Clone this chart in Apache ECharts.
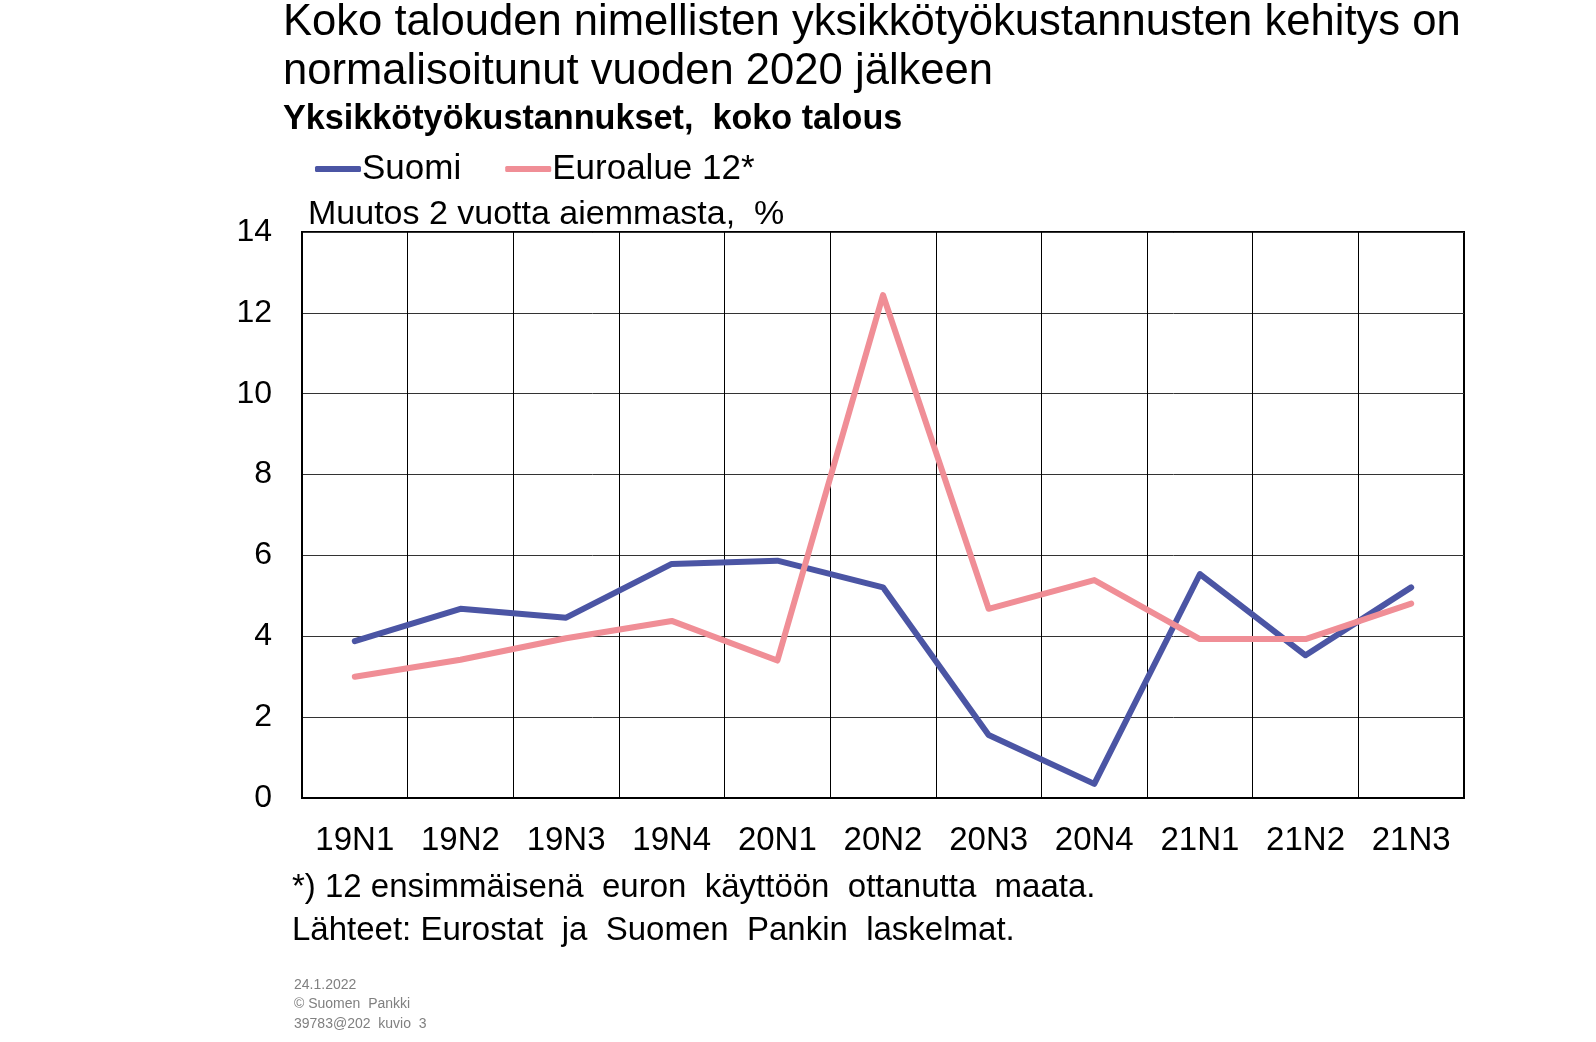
<!DOCTYPE html>
<html>
<head>
<meta charset="utf-8">
<script src="https://cdn.jsdelivr.net/npm/echarts@6/dist/echarts.min.js"></script>
<style>
html,body{margin:0;padding:0;background:#fff;}
#chart{width:1596px;height:1042px;}
</style>
</head>
<body>
<div id="chart"></div>
<script>
var categories = ['19N1','19N2','19N3','19N4','20N1','20N2','20N3','20N4','21N1','21N2','21N3'];
var suomi = [3.88, 4.68, 4.46, 5.79, 5.87, 5.21, 1.56, 0.35, 5.54, 3.53, 5.21];
var euroalue = [3.0, 3.42, 3.95, 4.38, 3.40, 12.44, 4.68, 5.39, 3.93, 3.93, 4.81];
var yTicks = {min: 0, max: 14, interval: 2};

var FONT = 'Liberation Sans, Arial, sans-serif';
var chart = echarts.init(document.getElementById('chart'));
// cy = vertical centre of the first line
function t(text, left, cy, size, lh, extra) {
  var s = {fontFamily: FONT, fontSize: size, lineHeight: lh, color: '#000', fontWeight: 'normal'};
  if (extra) for (var k in extra) s[k] = extra[k];
  return {text: text, left: left, top: cy - lh / 2, padding: 0, textStyle: s};
}
chart.setOption({
  backgroundColor: '#fff',
  animation: false,
  title: [
    t('Koko talouden nimellisten yksikkötyökustannusten kehitys on\nnormalisoitunut vuoden 2020 jälkeen', 283, 23, 43.6, 49),
    t('Yksikkötyökustannukset,  koko talous', 283, 120, 34.2, 40, {fontWeight: 'bold'}),
    t('Muutos 2 vuotta aiemmasta,  %', 308, 215, 34, 40),
    t('*) 12 ensimmäisenä  euron  käyttöön  ottanutta  maata.', 292, 888, 33, 40),
    t('Lähteet: Eurostat  ja  Suomen  Pankin  laskelmat.', 292, 931, 33, 40),
    t('24.1.2022\n© Suomen  Pankki\n39783@202  kuvio  3', 294, 985, 14, 19.5, {color: '#808080'})
  ],
  legend: {
    left: 310,
    top: 164 - 20,
    itemWidth: 46,
    itemHeight: 6,
    itemGap: 44,
    icon: 'roundRect',
    textStyle: {fontFamily: FONT, fontSize: 35, color: '#000', lineHeight: 40, padding: [0, 0, 0, -4]},
    data: ['Suomi', 'Euroalue 12*']
  },
  grid: {
    left: 302, right: 132, top: 232, bottom: 244,
    show: true, borderColor: '#000', borderWidth: 2, backgroundColor: 'transparent'
  },
  xAxis: {
    type: 'category',
    data: categories,
    boundaryGap: true,
    axisLine: {lineStyle: {color: '#000', width: 2}},
    axisTick: {show: false},
    splitLine: {show: true, lineStyle: {color: '#000', width: 1}},
    axisLabel: {fontFamily: FONT, fontSize: 33, color: '#000', margin: 26, interval: 0}
  },
  yAxis: {
    type: 'value',
    min: yTicks.min, max: yTicks.max, interval: yTicks.interval,
    axisLine: {show: true, lineStyle: {color: '#000', width: 2}},
    axisTick: {show: false},
    splitLine: {show: true, lineStyle: {color: '#333', width: 1}},
    axisLabel: {fontFamily: FONT, fontSize: 32, color: '#000', margin: 30}
  },
  series: [
    {
      name: 'Suomi', type: 'line', data: suomi, symbol: 'none',
      itemStyle: {color: '#4b55a4'},
      lineStyle: {color: '#4b55a4', width: 6, cap: 'round', join: 'round'}
    },
    {
      name: 'Euroalue 12*', type: 'line', data: euroalue, symbol: 'none',
      itemStyle: {color: '#f08e96'},
      lineStyle: {color: '#f08e96', width: 6, cap: 'round', join: 'round'}
    }
  ]
});
</script>
</body>
</html>
